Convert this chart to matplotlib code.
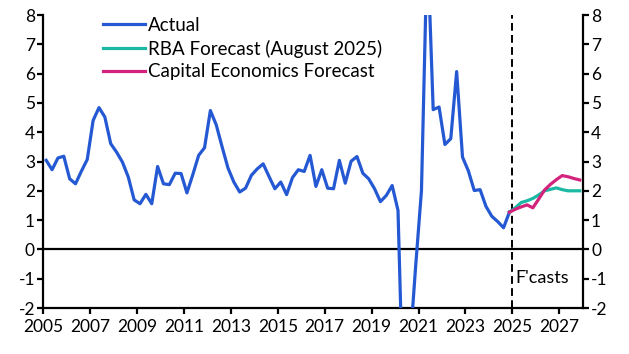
import numpy as np
import pandas as pd
import matplotlib
matplotlib.use("Agg")
import matplotlib.pyplot as plt

plt.rcParams['font.family'] = ['Lato', 'DejaVu Sans']
plt.rcParams['font.size'] = 12.5
plt.rcParams['axes.unicode_minus'] = False

# Actual, quarterly from 2005Q1 to 2024Q4 (% y/y)
actual = [3.04, 2.72, 3.12, 3.18, 2.41, 2.24, 2.67, 3.07, 4.40, 4.84,
          4.52, 3.61, 3.32, 2.98, 2.47, 1.69, 1.56, 1.88, 1.56, 2.83,
          2.24, 2.21, 2.60, 2.59, 1.93, 2.55, 3.21, 3.47, 4.74, 4.25,
          3.50, 2.78, 2.30, 1.96, 2.09, 2.53, 2.75, 2.92, 2.49, 2.07,
          2.30, 1.87, 2.45, 2.72, 2.66, 3.21, 2.15, 2.72, 2.09, 2.07,
          3.04, 2.26, 3.01, 3.17, 2.60, 2.41, 2.07, 1.63, 1.84, 2.18,
          1.33, -6.0, -3.4, -0.6, 2.01, 10.5, 4.77, 4.86, 3.58, 3.78,
          6.07, 3.15, 2.68, 2.01, 2.04, 1.47, 1.13, 0.95, 0.74, 1.27]

# forecasts, quarterly from 2024Q4 to 2027Q4
rba_fc = [1.27, 1.42, 1.60, 1.66, 1.74, 1.86, 2.00, 2.05, 2.10, 2.04, 2.00, 2.00, 2.00]
ce_fc = [1.27, 1.37, 1.45, 1.52, 1.42, 1.72, 2.03, 2.22, 2.38, 2.52, 2.48, 2.42, 2.37]

def to_years(periods):
    return np.array([p.year + (p.quarter - 0.5) / 4 for p in periods])

x_act = to_years(pd.period_range('2005Q1', periods=len(actual), freq='Q'))
x_fc = to_years(pd.period_range('2024Q4', periods=len(rba_fc), freq='Q'))

years = list(range(2005, 2028, 2))
yticks = list(range(-2, 9))

fig = plt.figure(figsize=(6.29, 3.54), dpi=100)
ax = fig.add_axes([0.0688, 0.1299, 0.8576, 0.8277])

ax.plot(x_act, actual, color='#2459d3', lw=2.3, label='Actual', zorder=3)
ax.plot(x_fc, rba_fc, color='#1bb9a3', lw=2.3, label='RBA Forecast (August 2025)', zorder=3)
ax.plot(x_fc, ce_fc, color='#d3237c', lw=2.3, label='Capital Economics Forecast', zorder=4)

ax.axhline(0, color='black', lw=1.6, zorder=2)
ax.axvline(2025, color='black', lw=1.4, ls=(0, (4, 2.2)), zorder=2)
ax.text(2025.15, -0.96, "F'casts", ha='left', va='center', fontsize=13)

ax.set_xlim(2005, 2028)
ax.set_ylim(-2, 8)
ax.set_xticks(years)
ax.set_yticks(yticks)

ax.spines['top'].set_visible(False)
for s in ['left', 'right', 'bottom']:
    ax.spines[s].set_linewidth(1.6)
ax.yaxis.set_ticks_position('both')
ax.tick_params(axis='y', labelright=True, direction='out', length=4, width=1.6, pad=2)
ax.tick_params(axis='x', direction='out', length=4, width=1.6, pad=4)

ax.legend(loc='upper left', bbox_to_anchor=(0.1107, 0.993), frameon=False,
          handlelength=2.24, handletextpad=0.16, labelspacing=0.3,
          borderpad=0, borderaxespad=0, fontsize=13.5)

fig.savefig('out.png', dpi=100)
